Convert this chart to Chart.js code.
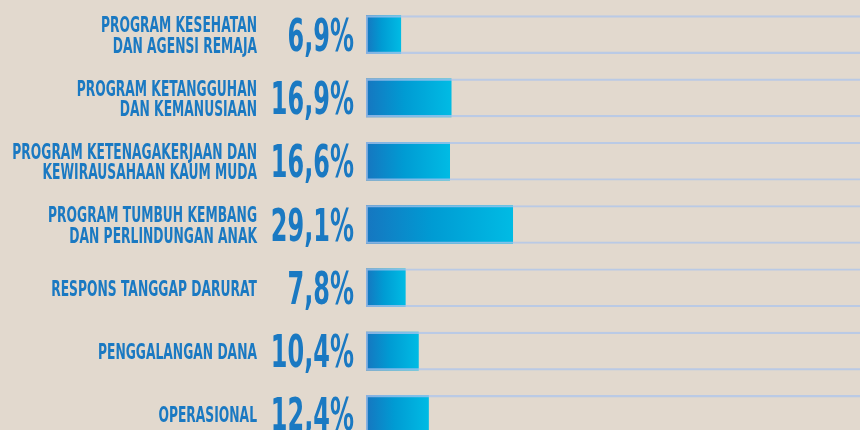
<!DOCTYPE html>
<html lang="id">
<head>
  <meta charset="UTF-8" />
  <title>Alokasi Dana</title>
  <script src="https://cdn.jsdelivr.net/npm/chart.js"></script>
  <style>
    html, body {
      margin: 0;
      padding: 0;
      background: #e2d9ce;
      overflow: hidden;
    }

    .chart-box {
      position: absolute;
      top: 0;
      left: 0;
      width: 860px;
      height: 449px;
    }
  </style>
</head>
<body>
  <div class="chart-box">
    <canvas id="fundChart"></canvas>
  </div>

  <script>
    // categories, one array entry per label line
    const categories = [
      ['PROGRAM KESEHATAN', 'DAN AGENSI REMAJA'],
      ['PROGRAM KETANGGUHAN', 'DAN KEMANUSIAAN'],
      ['PROGRAM KETENAGAKERJAAN DAN', 'KEWIRAUSAHAAN KAUM MUDA'],
      ['PROGRAM TUMBUH KEMBANG', 'DAN PERLINDUNGAN ANAK'],
      ['RESPONS TANGGAP DARURAT'],
      ['PENGGALANGAN DANA'],
      ['OPERASIONAL']
    ];
    const shares = [6.9, 16.9, 16.6, 29.1, 7.8, 10.4, 12.4];
    const trackFull = [100, 100, 100, 100, 100, 100, 100];

    const BLUE = '#1a79c2';

    function barGradient(context) {
      const chart = context.chart;
      const xs = chart.scales.x;
      if (!xs || !chart.chartArea) return BLUE;
      const x0 = xs.getPixelForValue(0);
      const x1 = xs.getPixelForValue(shares[context.dataIndex]);
      const g = chart.ctx.createLinearGradient(x0, 0, x1, 0);
      g.addColorStop(0, '#1676c0');
      g.addColorStop(0.45, '#009bd3');
      g.addColorStop(1, '#00bbe4');
      return g;
    }

    // draws category names and percentages beside each bar
    const sideLabels = {
      id: 'sideLabels',
      afterDatasetsDraw(chart) {
        const ctx = chart.ctx;
        const ys = chart.scales.y;
        const left = chart.chartArea.left;
        ctx.save();
        ctx.fillStyle = BLUE;
        ctx.textAlign = 'right';
        ctx.textBaseline = 'alphabetic';

        categories.forEach((lines, i) => {
          const cy = ys.getPixelForValue(i);

          // category name
          const cap = 16, gap = 20.4;
          const top = cy - (cap + (lines.length - 1) * gap) / 2;
          ctx.font = 'bold 22px "DejaVu Sans"';
          lines.forEach((line, k) => {
            ctx.save();
            ctx.translate(left - 109, top + cap + k * gap);
            ctx.scale(0.56, 1);
            ctx.fillText(line, 0, 0);
            ctx.restore();
          });

          // percentage
          const txt = shares[i].toFixed(1).replace('.', ',') + '%';
          ctx.font = 'bold 44px "DejaVu Sans"';
          ctx.save();
          ctx.translate(left - 12, cy + 16);
          ctx.scale(0.545, 1);
          ctx.fillText(txt, 0, 0);
          ctx.restore();
        });
        ctx.restore();
      }
    };

    new Chart(document.getElementById('fundChart'), {
      type: 'bar',
      data: {
        labels: categories,
        datasets: [
          {
            label: 'Persentase',
            data: shares,
            backgroundColor: barGradient,
            borderWidth: 0,
            barThickness: 38,
            grouped: false,
            order: 2
          },
          {
            label: 'Track',
            data: trackFull,
            backgroundColor: 'rgba(0,0,0,0)',
            borderColor: 'rgba(172,196,236,0.75)',
            borderWidth: { top: 1.5, bottom: 1.5, left: 1.5, right: 0 },
            borderSkipped: false,
            barThickness: 38,
            grouped: false,
            order: 1
          }
        ]
      },
      options: {
        indexAxis: 'y',
        responsive: true,
        maintainAspectRatio: false,
        animation: false,
        layout: { padding: { top: 3, bottom: 3, left: 0, right: 0 } },
        plugins: {
          legend: { display: false },
          tooltip: { enabled: false }
        },
        scales: {
          x: {
            display: false,
            min: 0,
            max: 98
          },
          y: {
            offset: true,
            grid: { display: false },
            border: { display: false },
            ticks: { display: false },
            afterFit(scale) { scale.width = 366; }
          }
        }
      },
      plugins: [sideLabels]
    });
  </script>
</body>
</html>
